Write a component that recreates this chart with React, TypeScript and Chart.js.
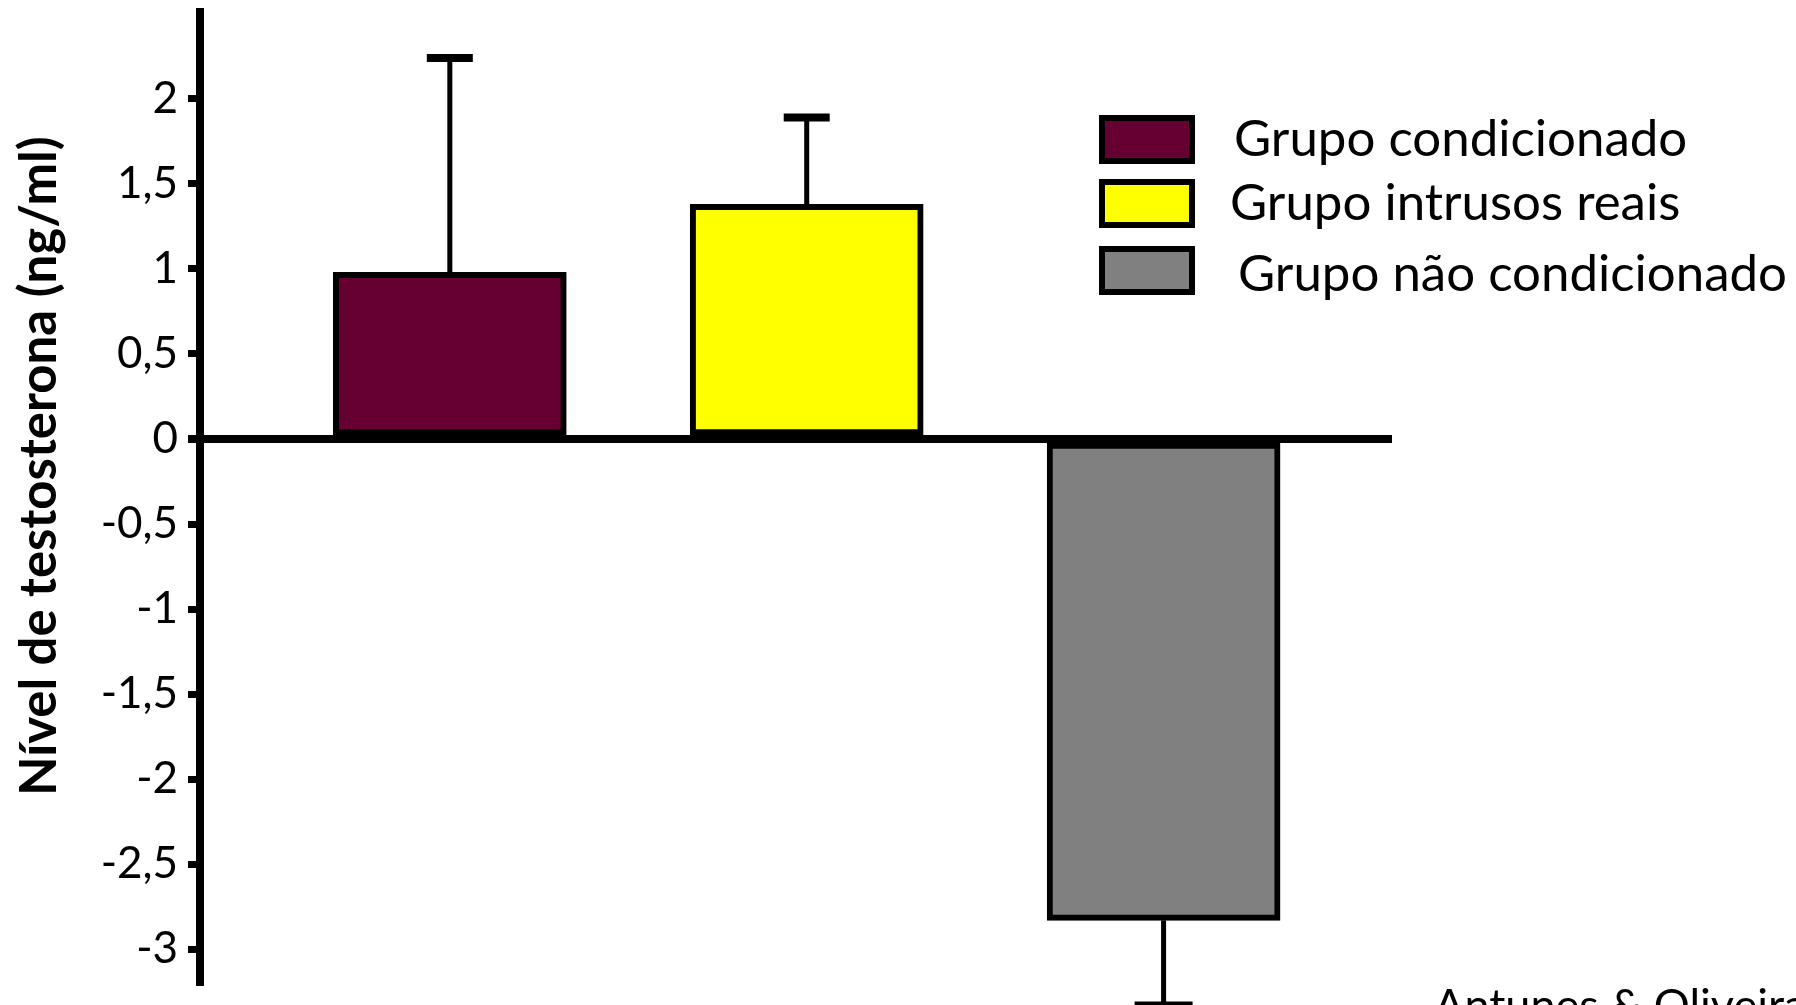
import React, { useEffect, useRef } from "react";
import { Chart, registerables } from "chart.js";

Chart.register(...registerables);

// ---- data ----
const groups = ["Grupo condicionado", "Grupo intrusos reais", "Grupo não condicionado"];
const positions = [1, 2, 3];
const means = [0.98, 1.38, -2.83];
const errors = [1.26, 0.51, 0.5];
const colors = ["#660033", "#FFFF00", "#808080"];
const yTicks = [-3, -2.5, -2, -1.5, -1, -0.5, 0, 0.5, 1, 1.5, 2];
const yTitle = "Nível de testosterona (ng/ml)";
const credit = "Antunes & Oliveira";

const FONT = "Lato, 'Open Sans', sans-serif";

const errorBarPlugin = {
  id: "errorBars",
  afterDatasetsDraw(chart: any) {
    const meta = chart.getDatasetMeta(0);
    const yScale = chart.scales.y;
    const ctx = chart.ctx;
    ctx.save();
    ctx.strokeStyle = "#000";
    meta.data.forEach((bar: any, i: number) => {
      const dir = means[i] >= 0 ? 1 : -1;
      const tip = yScale.getPixelForValue(means[i] + dir * errors[i]);
      ctx.lineWidth = 5;
      ctx.beginPath();
      ctx.moveTo(bar.x, bar.y);
      ctx.lineTo(bar.x, tip);
      ctx.stroke();
      ctx.lineWidth = 8;
      const half = i === 2 ? 29 : 23;
      ctx.beginPath();
      ctx.moveTo(bar.x - half, tip);
      ctx.lineTo(bar.x + half, tip);
      ctx.stroke();
    });
    ctx.restore();
  },
};

const decorPlugin = {
  id: "decor",
  afterDraw(chart: any) {
    const ctx = chart.ctx;
    ctx.save();
    // legend
    const boxX = 1099;
    const boxW = 96;
    const boxH = 49;
    const boxTops = [115, 179, 246];
    groups.forEach((g, i) => {
      const top = boxTops[i];
      ctx.fillStyle = colors[i];
      ctx.fillRect(boxX, top, boxW, boxH);
      ctx.lineWidth = 6;
      ctx.strokeStyle = "#000";
      ctx.strokeRect(boxX + 3, top + 3, boxW - 6, boxH - 6);
      ctx.fillStyle = "#000";
      ctx.font = `51px ${FONT}`;
      ctx.textAlign = "left";
      ctx.textBaseline = "middle";
      ctx.fillText(g, i === 2 ? 1238 : i === 1 ? 1230 : 1234, top + boxH / 2 + (i === 2 ? 4 : 0));
    });
    // y-axis title
    ctx.save();
    ctx.translate(40, 466);
    ctx.rotate(-Math.PI / 2);
    ctx.font = `bold 51px ${FONT}`;
    ctx.textAlign = "center";
    ctx.textBaseline = "middle";
    ctx.fillStyle = "#000";
    ctx.fillText(yTitle, 0, 0);
    ctx.restore();
    // credit
    ctx.font = `45px ${FONT}`;
    ctx.textAlign = "left";
    ctx.textBaseline = "alphabetic";
    ctx.fillStyle = "#000";
    ctx.fillText(credit, 1434, 1021);
    ctx.restore();
  },
};

export default function App() {
  const ref = useRef<HTMLCanvasElement>(null);
  useEffect(() => {
    const canvas = ref.current!;
    const chart = new Chart(canvas, {
      type: "bar",
      data: {
        datasets: [
          {
            label: yTitle,
            data: positions.map((x, i) => ({ x, y: means[i] })),
            backgroundColor: colors,
            borderColor: "#000",
            borderWidth: 6,
            borderSkipped: false,
            barThickness: 233,
          } as any,
        ],
      },
      options: {
        responsive: false,
        animation: false,
        devicePixelRatio: 1,
        layout: { padding: { left: 0, top: 12, right: 404, bottom: 20 } },
        plugins: {
          legend: { display: false },
          tooltip: { enabled: false },
          title: { display: false },
        },
        scales: {
          x: { type: "linear", min: 0.3, max: 3.64, offset: false, display: false },
          y: {
            type: "linear",
            min: -3.21,
            max: 2.51,
            afterBuildTicks: (s: any) => {
              s.ticks = yTicks.map((v) => ({ value: v }));
            },
            afterFit: (s: any) => {
              s.width = 200;
              s.paddingTop = 0;
              s.paddingBottom = 0;
            },
            border: { display: true, color: "#000", width: 8 },
            grid: {
              drawOnChartArea: true,
              drawTicks: true,
              color: (c: any) => (c.tick && c.tick.value === 0 ? "#000" : "rgba(0,0,0,0)"),
              lineWidth: (c: any) => (c.tick && c.tick.value === 0 ? 8 : 1),
              tickColor: "#000",
              tickWidth: (c: any) => (c.tick && c.tick.value === 0 ? 8 : 7),
              tickLength: 12,
            },
            ticks: {
              color: "#000",
              font: { family: FONT, size: 44 },
              padding: 10,
              callback: (v: any) => String(v).replace(".", ","),
            },
          },
        },
      } as any,
      plugins: [errorBarPlugin, decorPlugin],
    });
    return () => chart.destroy();
  }, []);
  return (
    <div style={{ position: "fixed", left: 0, top: 0, width: 1796, height: 1005, background: "#fff" }}>
      <canvas ref={ref} width={1796} height={1005} style={{ display: "block" }} />
    </div>
  );
}
